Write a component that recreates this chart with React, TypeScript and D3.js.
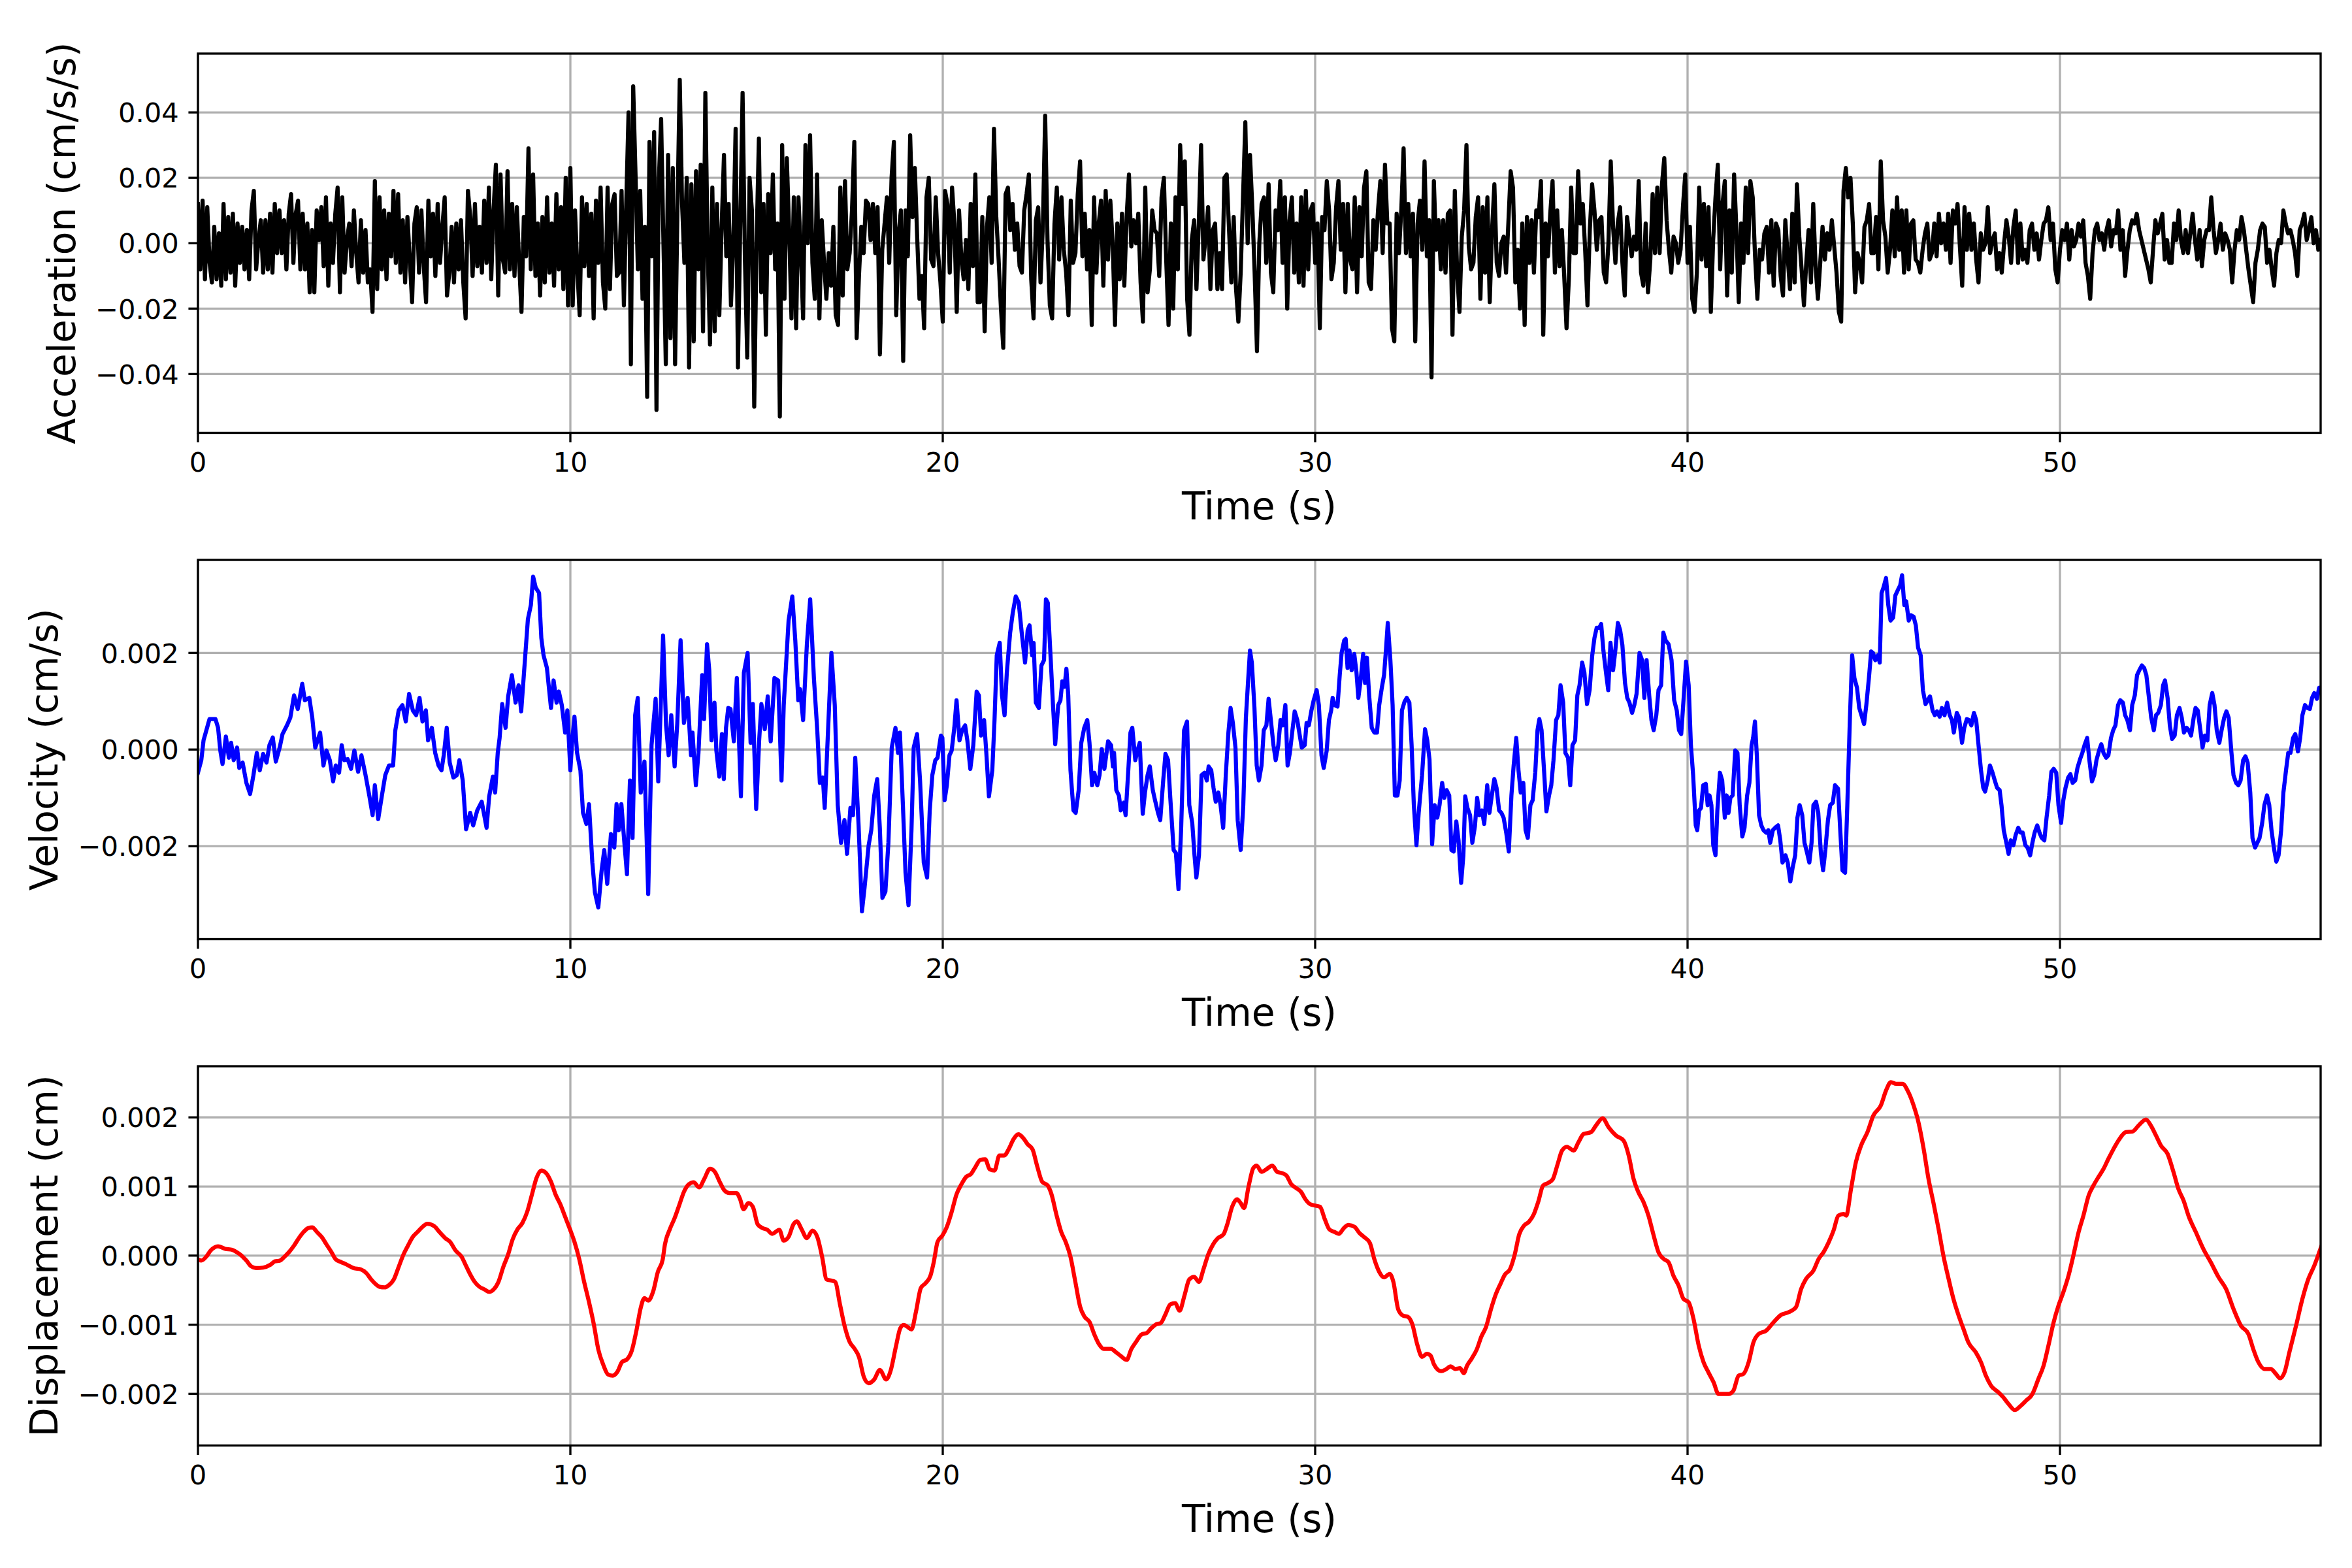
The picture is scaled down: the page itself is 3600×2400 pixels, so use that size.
import React from 'react';
import * as d3 from 'd3';

const W = 3600;
const H = 2400;
const PT = 300 / 72;
const L = 303;
const R = 3552;
const PH = 580.5;
const TOPS = [82, 857, 1632];
const FONT = "'DejaVu Sans', 'Liberation Sans', sans-serif";
const TICK_FS = 10 * PT;
const LABEL_FS = 14 * PT;
const TICK_LEN = 3.5 * PT;
const TICK_PAD = 3.5 * PT;
const GRID_W = 0.8 * PT;
const SPINE_W = 0.8 * PT;
const LINE_W = 1.5 * PT;

const T_MAX = 57;
const TIME_TICKS = [0, 10, 20, 30, 40, 50];
const ACC_TICKS = [-0.04, -0.02, 0, 0.02, 0.04];
const VEL_TICKS = [-0.002, 0, 0.002];
const DISP_TICKS = [-0.002, -0.001, 0, 0.001, 0.002];

// Acceleration in 1e-3 cm/s/s; one row per second, values evenly spaced inside the second
const ACC_ROWS: number[][] = [
  [12,-8,13,-11,11,-6,-12,5,-11,3,-13,12,-11,8,-9,9],
  [-13,6,-6,5,-8,4,-11,10,16,-8,1,7,-9,7,-8,9],
  [-9,12,-3,10,-3,7,-8,9,15,-6,9,13,-8,9,-8,6],
  [-15,4,-15,10,1,11,-7,14,-13,6,-6,9,17,-15,14,-9],
  [1,6,-7,10,-3,-12,7,-9,4,-12,-8,-21,19,-14,14,-8],
  [10,-11,9,-4,16,-6,15,-9,7,-12,8,-5,-18,6,11,-9],
  [10,-7,-18,13,-4,9,-10,12,-6,5,14,-16,-9,5,-12,6],
  [-8,7,-12,-23,16,8,-10,12,-7,5,-9,13,-6,17,-11,10],
  [24,-16,21,-5,-9,22,-8,12,-10,11,-6,-21,8,-4,29,-8],
  [21,-10,6,-16,8,-12,14,-9,6,-13,15,-8,11,-14,20,-19],
  [23,-19,10,-8,-22,14,-7,12,-10,9,-23,13,-6,17,-12,-20],
  [17,-14,12,15,-10,-9,16,-19,12,40,-37,48,21,-8,16,-17],
  [5,-47,31,-4,34,-51,19,38,0,-37,27,-29,23,-37,10,50],
  [12,-6,20,-38,18,-30,22,-8,24,-27,46,-2,-31,17,-27,12],
  [-22,5,27,-4,12,-19,0,35,-38,6,46,-5,-35,20,10,-50],
  [0,32,-15,12,-28,15,-3,21,-8,6,-53,30,-17,26,4,-23],
  [14,-26,14,-2,-23,30,0,33,-6,-17,21,-23,7,-6,-17,-3],
  [-13,5,-22,-25,17,-16,19,-8,-3,10,31,-29,-10,5,-3,13],
  [12,1,12,-3,11,-34,-2,6,14,-6,20,31,-22,3,10,-36],
  [10,-4,33,8,23,2,-17,-10,-26,14,20,-5,-7,14,-3,-12],
  [-24,16,12,-9,17,6,-21,10,-5,-11,1,-14,12,-7,21,-18],
  [-18,8,-27,5,14,-6,35,8,-5,-20,-32,15,17,4,12,-2],
  [6,-7,-9,10,15,21,-11,-23,7,11,-12,5,39,1,-19,-23],
  [6,17,-5,14,-2,-9,-22,13,-6,-3,15,25,-4,9,-8,4],
  [-25,14,-9,6,13,-13,16,-5,13,0,-25,6,-11,9,-13,8],
  [21,-1,7,0,9,-12,-24,17,-15,-8,10,4,3,-10,14,20],
  [-5,-25,6,-20,14,-8,30,12,25,-17,-28,1,7,-14,6,30],
  [-5,2,11,-14,4,6,-14,-3,-14,20,21,4,-12,8,-14,-24],
  [-9,14,37,0,27,11,-9,-33,0,12,14,-6,18,-9,-15,10],
  [4,19,-6,14,-20,7,14,-9,6,-12,14,-13,16,-8,10,12],
  [-6,6,-26,8,4,19,10,-11,-6,11,19,-2,12,-15,12,-5],
  [-8,14,-15,11,-4,17,22,-12,-14,7,-2,10,19,-3,24,6],
  [6,-26,-30,9,-3,10,29,-3,12,-4,9,-30,6,13,-2,25],
  [-4,7,-41,19,-2,7,-8,7,-9,9,10,-28,16,-9,-21,2],
  [10,30,-1,-8,-6,8,14,-17,11,-9,14,-18,4,18,-6,-10],
  [0,2,-9,6,22,17,-12,-2,-20,6,-25,8,-6,7,-9,10],
  [8,19,-28,6,-4,9,19,-9,10,-7,4,-10,-26,-11,17,-3],
  [-3,22,6,12,-2,-19,4,18,10,-2,7,8,-9,-12,0,25],
  [5,-6,6,11,-6,-16,8,2,-4,2,-2,19,-9,-13,6,-15],
  [-5,15,-3,17,-3,18,26,7,-2,-9,2,0,-6,-2,11,21],
  [-6,5,-17,-21,-9,17,-5,12,-7,11,-21,1,14,24,-8,12],
  [19,-16,10,-9,21,4,-18,6,-6,17,-3,19,14,-4,-17,-2],
  [-5,3,5,-9,7,-13,6,4,-10,-16,7,-4,-14,9,-12,18],
  [2,-8,-19,-6,4,-12,12,-7,-17,-6,5,-5,3,-2,7,-1],
  [-9,-21,-24,16,23,14,20,6,-15,-3,-6,-12,5,7,12,-3],
  [-3,8,-8,25,7,2,-9,-2,10,-4,14,-2,10,-9,10,-8],
  [6,7,-5,-6,-9,-2,3,6,-5,-3,6,-4,9,0,6,-2],
  [9,-6,10,6,12,-1,-13,11,-2,9,-2,6,-5,-12,3,-2],
  [0,11,-3,1,3,-8,-3,-9,0,7,2,-6,5,10,-6,6],
  [-5,-2,-6,4,6,-2,3,-5,1,6,7,11,1,6,-8,-12],
  [-2,4,1,6,-5,4,-1,1,6,2,7,-6,-10,-17,-3,4],
  [6,1,3,-2,4,7,-1,4,3,10,-2,4,-10,-2,4,7],
  [6,9,4,1,-2,-5,-8,-12,-2,7,3,6,9,-5,1,-6],
  [-6,6,1,10,1,-3,4,-3,3,9,1,-5,4,-7,1,4],
  [4,14,4,-3,1,6,-2,3,1,-2,-12,-2,4,1,8,4],
  [-2,-8,-13,-18,-6,-2,4,6,5,-6,-2,-8,-13,-3,1,0],
  [10,6,3,4,1,-3,-10,4,6,9,1,4,8,0,4,-2],
  [1],
];

// Velocity: flat pairs [time s, value in 1e-4 cm/s]
const VEL_PAIRS: number[] = [
  0,-4.8, 0.09,-2.2, 0.15,1.9, 0.31,6.3, 0.47,6.3, 0.54,4.5, 0.60,-0.2, 0.66,-3, 0.75,2.7, 0.83,-1.7, 0.89,1.4, 0.96,-2.2,
  1.05,0.4, 1.11,-3.8, 1.20,-2.7, 1.30,-6.9, 1.40,-9.2, 1.49,-5.3, 1.58,-0.7, 1.66,-4.3, 1.75,-0.9, 1.84,-2.7, 1.92,0.9,
  2.01,2.5, 2.09,-2.5, 2.20,0.6, 2.27,3.2, 2.39,5.0, 2.48,6.6, 2.58,11.2, 2.68,8.4, 2.80,13.6, 2.87,10.2, 2.99,10.7,
  3.07,6.6, 3.15,0.4, 3.28,3.5, 3.37,-3.3, 3.45,-0.2, 3.54,-2.2, 3.63,-6.6, 3.70,-3.3, 3.79,-4.8, 3.86,0.9, 3.93,-2.2,
  4.02,-2.0, 4.11,-4.0, 4.20,-0.2, 4.30,-4.6, 4.39,-1.2, 4.50,-5.3, 4.60,-9.5, 4.69,-13.6, 4.75,-7.4, 4.84,-14.4, 4.94,-9.5,
  5.03,-5.3, 5.13,-3.3, 5.24,-3.3, 5.30,4.0, 5.39,8.1, 5.49,9.2, 5.58,5.8, 5.67,11.5, 5.77,8.1, 5.86,7.1, 5.95,10.7,
  6.03,5.8, 6.12,8.1, 6.18,1.9, 6.28,4.5, 6.37,-0.7, 6.46,-3.3, 6.54,-4.3, 6.60,-1.2, 6.68,4.5, 6.76,-2.7, 6.86,-5.8, 6.95,-5.3,
  7.02,-2.2, 7.11,-6.4, 7.20,-16.5, 7.31,-13.1, 7.39,-15.7, 7.50,-12.6, 7.62,-10.8, 7.75,-16.2, 7.82,-9.7, 7.92,-5.6, 7.98,-8.9,
  8.05,-0.7, 8.10,2.4, 8.17,9.4, 8.26,4.5, 8.33,11.0, 8.43,15.4, 8.53,9.7, 8.61,13.3, 8.68,7.9, 8.76,16.4, 8.86,27.0, 8.94,29.9,
  9.00,35.8, 9.07,33.5, 9.16,32.4, 9.22,23.1, 9.28,19.5, 9.37,16.9, 9.48,8.6, 9.55,14.3, 9.63,9.7, 9.69,12.0, 9.77,9.2, 9.86,3.5, 9.92,8.1,
  10.0,-4.3, 10.05,1.9, 10.11,6.8, 10.18,-0.7, 10.27,-4.3, 10.34,-13.1, 10.43,-15.4, 10.50,-11.3, 10.59,-23.4, 10.66,-29.6, 10.75,-32.7,
  10.84,-25.0, 10.91,-20.8, 10.99,-27.8, 11.09,-17.5, 11.18,-20.3, 11.24,-11.3, 11.30,-16.7, 11.37,-11.3, 11.44,-18.3, 11.52,-25.8,
  11.60,-6.4, 11.67,-18.3, 11.74,7.1, 11.81,10.7, 11.89,-8.9, 11.99,-2.5, 12.09,-29.9, 12.18,0.9, 12.29,10.5, 12.36,-6.6, 12.49,23.6,
  12.57,5.0, 12.64,-1.2, 12.71,7.1, 12.80,-3.5, 12.87,5.3, 12.96,22.6, 13.05,5.5, 13.15,10.7, 13.24,-1.2, 13.28,3.5, 13.37,-7.4,
  13.44,-0.7, 13.54,15.4, 13.59,6.3, 13.67,21.8, 13.73,16.4, 13.79,1.9, 13.87,9.7, 13.92,-0.2, 14.00,-5.6, 14.07,3.2, 14.12,-6.1,
  14.18,4.5, 14.24,8.6, 14.30,8.4, 14.39,1.7, 14.47,14.8, 14.58,-9.7, 14.66,15.9, 14.76,20.0, 14.84,1.4, 14.90,9.4, 14.99,-12.3,
  15.07,1.9, 15.13,9.4, 15.22,4.2, 15.30,11.0, 15.38,1.7, 15.48,14.8, 15.58,14.3, 15.67,-6.4, 15.73,9.2, 15.86,26.7, 15.96,31.7,
  16.04,22.6, 16.12,10.2, 16.17,12.5, 16.25,6.1, 16.35,21.6, 16.44,31.1, 16.54,14.8, 16.63,4.0, 16.70,-6.9, 16.78,-5.8, 16.83,-12.1,
  16.92,4.0, 17.01,20.0, 17.10,9.2, 17.18,-11.5, 17.27,-19.3, 17.36,-14.6, 17.43,-21.6, 17.52,-12.1, 17.59,-13.6, 17.65,-1.7,
  17.74,-15.7, 17.83,-33.5, 17.90,-28.6, 18.01,-19.8, 18.08,-16.7, 18.16,-9.5, 18.24,-6.1, 18.31,-16.2, 18.38,-30.7, 18.46,-29.4,
  18.54,-19.3, 18.63,0.4, 18.73,4.5, 18.80,-0.7, 18.85,3.5, 18.93,-11.5, 19.00,-25.5, 19.08,-32.2, 19.16,-16.7, 19.22,0.4, 19.31,3.2,
  19.39,-6.4, 19.49,-23.4, 19.58,-26.5, 19.65,-12.6, 19.72,-5.3, 19.80,-2.2,
  19.86,-1.7, 19.95,2.9, 19.99,2.4, 20.05,-10.5, 20.11,-7.4, 20.18,-1.2, 20.24,-0.2, 20.31,4.5, 20.37,10.2, 20.45,1.9, 20.52,4.0,
  20.60,5.0, 20.66,1.9, 20.74,-4.0, 20.82,0.9, 20.91,12.0, 20.97,11.2, 21.03,2.9, 21.11,6.1, 21.17,-0.7, 21.24,-9.7, 21.33,-4.3,
  21.39,6.1, 21.45,19.5, 21.53,22.1, 21.59,11.2, 21.66,7.1, 21.72,15.9, 21.81,24.2, 21.88,28.3, 21.96,31.7, 22.04,30.4, 22.12,24.2,
  22.21,18.0, 22.28,24.7, 22.33,25.7, 22.40,19.5, 22.44,22.1, 22.50,9.7, 22.58,8.6, 22.65,17.4, 22.72,18.5, 22.77,31.1, 22.82,30.4,
  22.90,18.5, 22.96,9.2, 23.02,1.1, 23.10,9.2, 23.16,10.2, 23.21,14.1, 23.27,13.0, 23.32,16.7, 23.37,11.2, 23.43,-4.3, 23.51,-12.6,
  23.57,-13.1, 23.65,-8.4, 23.72,1.4, 23.80,4.5, 23.88,6.1, 23.94,1.4, 24.01,-7.4, 24.07,-4.8, 24.15,-7.4, 24.21,-5.3, 24.27,0.1,
  24.34,-4.0, 24.44,1.7, 24.52,0.9, 24.57,-3.5, 24.60,-0.7, 24.66,-8.4, 24.73,-9.5, 24.78,-12.6, 24.86,-11.0, 24.91,-13.6, 24.99,-3.3,
  25.04,3.5, 25.09,4.5, 25.17,-2.2, 25.23,-0.2, 25.29,1.4, 25.37,-13.3, 25.43,-8.9, 25.50,-5.3, 25.56,-3.5, 25.64,-8.4, 25.70,-10.5,
  25.78,-13.1, 25.84,-14.6, 25.92,-6.4, 25.98,-0.9, 26.05,-2.2, 26.11,-10.0, 26.20,-20.8, 26.26,-21.4, 26.33,-28.9, 26.40,-16.7,
  26.48,4.0, 26.56,5.8, 26.62,-11.5, 26.70,-15.2, 26.76,-21.9, 26.81,-26.5, 26.88,-21.9, 26.95,-5.3, 27.03,-4.8, 27.09,-6.4,
  27.14,-3.5, 27.21,-4.3, 27.27,-7.9, 27.33,-10.8, 27.40,-8.9, 27.46,-11.5, 27.53,-16.2, 27.60,-5.3, 27.67,3.5, 27.73,8.6, 27.79,5.5,
  27.86,0.4, 27.92,-14.6, 28.00,-20.8, 28.07,-11.5, 28.14,6.6, 28.20,14.3, 28.25,20.5, 28.30,18.0, 28.37,8.6, 28.43,-3.3, 28.49,-6.4,
  28.56,-3.3, 28.62,4.0, 28.69,5.0, 28.75,10.5, 28.81,6.1, 28.88,0.9, 28.94,-2.2, 29.01,0.9, 29.07,6.1, 29.13,5.0, 29.20,9.2,
  29.26,-3.3, 29.32,-0.7, 29.39,4.0, 29.45,7.9, 29.52,6.1, 29.58,3.2, 29.64,0.4, 29.72,0.9, 29.77,5.5, 29.83,5.0, 29.90,8.1, 29.96,10.2,
  30.04,12.3, 30.10,9.2, 30.17,-1.2, 30.23,-3.8, 30.31,-0.2, 30.37,6.1, 30.43,8.1, 30.47,10.7, 30.52,9.2, 30.60,8.9, 30.66,15.4,
  30.71,20.0, 30.78,22.6, 30.82,22.9, 30.87,16.9, 30.92,20.5, 30.98,16.4, 31.05,19.8, 31.11,15.9, 31.16,10.7, 31.22,14.3, 31.29,19.8,
  31.34,13.8, 31.39,19.0, 31.45,11.2, 31.52,4.5, 31.59,3.5, 31.66,3.5, 31.72,9.2, 31.79,12.8, 31.85,15.4, 31.90,20.5, 31.95,26.2,
  32.02,18.5, 32.08,9.2, 32.14,-9.5, 32.21,-9.5, 32.27,-6.4, 32.33,8.1, 32.40,9.9, 32.46,10.7, 32.53,9.7, 32.59,0.9, 32.65,-11.5,
  32.72,-19.8, 32.78,-13.1, 32.87,-5.3, 32.95,4.2, 33.01,1.9, 33.07,-2.0, 33.14,-19.6, 33.21,-11.5, 33.28,-14.1, 33.34,-11.5,
  33.41,-6.9, 33.47,-10.0, 33.53,-8.4, 33.60,-9.5, 33.66,-20.8, 33.72,-21.1, 33.79,-14.9, 33.85,-18.8, 33.92,-27.6, 33.98,-21.9,
  34.03,-9.7, 34.09,-12.1, 34.16,-13.6, 34.22,-19.3, 34.29,-15.9, 34.35,-10.0, 34.41,-13.6, 34.48,-12.6, 34.54,-15.4, 34.62,-7.4,
  34.68,-13.1, 34.74,-9.7, 34.81,-6.1, 34.87,-7.9, 34.94,-12.6, 35.00,-13.1, 35.06,-14.1, 35.13,-17.2, 35.20,-21.1, 35.27,-9.5,
  35.33,-3.3, 35.40,2.4, 35.46,-4.3, 35.52,-8.9, 35.59,-6.9, 35.65,-16.7, 35.71,-18.3, 35.78,-11.5, 35.84,-10.5, 35.91,-4.8,
  35.97,4.0, 36.02,6.3, 36.08,4.0, 36.15,-4.8, 36.21,-12.8, 36.28,-9.5, 36.34,-7.4, 36.40,-2.2, 36.47,6.1, 36.53,7.1, 36.59,13.3,
  36.66,9.7, 36.72,-0.7, 36.79,-1.7, 36.85,-7.4, 36.91,0.9, 36.98,1.9, 37.04,11.2, 37.10,13.3, 37.17,18.0, 37.23,15.9, 37.30,9.4,
  37.37,12.3, 37.44,19.5, 37.50,23.1, 37.56,25.2, 37.63,25.2, 37.68,26.0, 37.74,20.5, 37.81,15.9, 37.87,12.3, 37.93,22.1, 38.00,16.4,
  38.06,20.5, 38.13,26.2, 38.19,24.7, 38.25,21.6, 38.32,13.8, 38.38,10.7, 38.44,9.7, 38.51,7.6, 38.57,9.2, 38.63,11.5, 38.71,20.0,
  38.78,18.5, 38.84,10.7, 38.90,18.5, 38.97,11.2, 39.03,6.1, 39.09,4.0, 39.16,7.1, 39.22,12.3, 39.29,13.3, 39.35,24.2, 39.41,22.6,
  39.49,21.8, 39.57,18.5, 39.64,10.2, 39.71,8.1, 39.77,4.0, 39.83,3.2, 39.90,11.2, 39.96,18.2, 40.03,13.3, 40.09,0.9, 40.15,-5.3,
  40.22,-15.7, 40.26,-16.7, 40.31,-12.6, 40.36,-12.1, 40.42,-7.4, 40.49,-7.1, 40.54,-11.5, 40.59,-9.5, 40.64,-11.5, 40.69,-19.8,
  40.75,-21.9, 40.80,-12.6, 40.87,-4.8, 40.93,-6.4, 41.00,-14.1, 41.05,-9.5, 41.10,-13.1, 41.15,-10.0, 41.21,-9.5, 41.28,-0.2,
  41.34,-0.7, 41.40,-11.5, 41.47,-18.0, 41.53,-16.2, 41.60,-9.5, 41.66,-6.9, 41.72,0.9, 41.76,2.4, 41.81,5.8, 41.86,-1.2, 41.92,-13.6,
  41.98,-15.7, 42.04,-16.7, 42.11,-17.2, 42.17,-16.7, 42.22,-19.3, 42.29,-16.7, 42.35,-16.2, 42.43,-15.7, 42.49,-18.8, 42.55,-23.4,
  42.63,-21.9, 42.69,-23.4, 42.76,-27.3, 42.82,-24.5, 42.89,-21.9, 42.95,-14.1, 43.01,-11.5, 43.08,-13.6, 43.14,-19.3, 43.21,-21.4,
  43.27,-23.4, 43.33,-19.3, 43.38,-11.5, 43.45,-10.8, 43.51,-13.1, 43.58,-21.4, 43.64,-25.0, 43.70,-20.8, 43.77,-14.6, 43.83,-11.5,
  43.90,-11.0, 43.96,-7.4, 44.04,-8.1, 44.10,-16.7, 44.16,-25.0, 44.23,-25.5, 44.29,-11.5, 44.36,6.6, 44.42,19.5, 44.48,14.8,
  44.55,12.8, 44.61,8.6, 44.67,7.1, 44.74,5.3, 44.80,9.2, 44.87,14.8, 44.93,20.3, 44.98,20.0, 45.04,18.5, 45.11,19.5, 45.16,18.0,
  45.21,32.4, 45.26,33.5, 45.33,35.5, 45.39,29.9, 45.45,26.7, 45.52,27.3, 45.58,31.9, 45.64,32.9, 45.71,34.0, 45.76,36.1, 45.82,29.9,
  45.87,30.7, 45.94,26.7, 46.00,27.8, 46.07,27.5, 46.13,25.7, 46.19,21.1, 46.26,19.5, 46.32,12.3, 46.39,9.4, 46.45,10.2, 46.51,11.0,
  46.58,8.1, 46.64,7.1, 46.70,7.9, 46.77,6.8, 46.83,8.6, 46.90,7.1, 46.97,9.7, 47.04,7.1, 47.10,6.1, 47.15,3.5, 47.23,7.6, 47.29,6.6,
  47.37,1.4, 47.43,4.5, 47.50,6.3, 47.56,6.1, 47.62,5.0, 47.69,7.6, 47.75,6.1, 47.82,0.4, 47.88,-4.3, 47.94,-7.9, 47.99,-8.7,
  48.06,-6.4, 48.12,-3.3, 48.19,-4.8, 48.25,-6.4, 48.31,-7.9, 48.38,-8.4, 48.43,-11.5, 48.49,-16.7, 48.56,-19.3, 48.62,-21.6,
  48.68,-18.8, 48.75,-19.8, 48.81,-17.7, 48.88,-16.2, 48.94,-17.2, 49.00,-17.2, 49.07,-19.8, 49.13,-20.3, 49.20,-21.9, 49.26,-19.3,
  49.32,-17.2, 49.39,-15.7, 49.45,-17.2, 49.51,-18.3, 49.58,-18.8, 49.64,-14.1, 49.71,-9.5, 49.77,-4.6, 49.83,-4.0, 49.90,-4.8,
  49.96,-11.5, 50.03,-15.2, 50.09,-10.5, 50.15,-7.9, 50.22,-5.8, 50.28,-5.1, 50.34,-6.9, 50.41,-6.4, 50.47,-3.8, 50.54,-2.0,
  50.60,-0.7, 50.66,0.9, 50.73,2.4, 50.79,-2.2, 50.86,-6.6, 50.92,-5.3, 50.98,-2.2, 51.05,-0.2, 51.11,1.1, 51.17,-0.7, 51.24,-1.7,
  51.30,-1.2, 51.37,2.4, 51.43,4.0, 51.49,5.0, 51.56,9.2, 51.62,10.2, 51.69,9.7, 51.75,7.1, 51.81,6.1, 51.88,4.0, 51.94,9.2,
  52.01,11.2, 52.07,15.4, 52.13,16.4, 52.20,17.4, 52.26,16.9, 52.32,15.4, 52.39,10.7, 52.45,6.6, 52.52,4.0, 52.58,7.1, 52.64,7.6,
  52.71,9.2, 52.77,13.3, 52.82,14.3, 52.89,10.7, 52.95,5.0, 53.01,2.2, 53.08,2.9, 53.14,7.1, 53.21,8.6, 53.27,6.6, 53.33,3.5,
  53.40,4.5, 53.46,4.0, 53.52,2.9, 53.59,6.6, 53.64,8.6, 53.70,8.1, 53.77,4.0, 53.83,0.4, 53.89,2.9, 53.96,1.9, 54.02,9.2, 54.09,11.7,
  54.15,9.2, 54.21,4.0, 54.28,1.4, 54.34,4.0, 54.41,6.6, 54.47,7.9, 54.53,6.6, 54.60,-0.2, 54.66,-5.3, 54.73,-6.9, 54.79,-7.4,
  54.85,-6.4, 54.92,-2.2, 54.98,-1.4, 55.04,-2.7, 55.11,-8.9, 55.17,-18.3, 55.24,-20.3, 55.30,-19.3, 55.36,-18.3, 55.43,-15.2,
  55.49,-11.5, 55.56,-9.5, 55.62,-11.5, 55.68,-16.7, 55.75,-20.6, 55.81,-23.2, 55.87,-21.9, 55.94,-16.7, 56.00,-8.9, 56.07,-4.3,
  56.13,-0.7, 56.19,-0.7, 56.26,2.4, 56.32,3.2, 56.39,-0.4, 56.45,2.4, 56.51,7.1, 56.58,9.2, 56.64,8.6, 56.71,8.4, 56.77,10.7,
  56.83,11.7, 56.90,10.5, 56.96,12.8, 57.02,12.5,
];

// Displacement: flat pairs [time s, value in 1e-5 cm]
const DISP_PAIRS: number[] = [
  0,-5.4, 0.09,-7.2, 0.22,-1.8, 0.34,7.2, 0.54,13.4, 0.73,9.8, 0.92,8.3, 1.05,4.7, 1.17,0, 1.30,-7.2, 1.43,-15.6, 1.56,-18.1,
  1.75,-17.4, 1.94,-13.4, 2.07,-8.3, 2.20,-7.2, 2.32,-1.8, 2.45,5.4, 2.58,14.5, 2.71,25.3, 2.84,34.4, 2.96,39.8, 3.07,40.9,
  3.19,34.4, 3.32,27.1, 3.45,16.3, 3.58,5.4, 3.70,-5.4, 3.83,-9, 3.98,-12.7, 4.18,-18.1, 4.37,-19.9, 4.52,-25.3, 4.65,-34.4,
  4.78,-41.6, 4.88,-45.2, 5.01,-46, 5.13,-42.7, 5.26,-34.4, 5.39,-16.3, 5.52,1.8, 5.64,14.5, 5.77,27.1, 5.90,34.4, 6.03,41.6,
  6.16,46, 6.35,42.3, 6.48,34.4, 6.64,25.3, 6.77,19.9, 6.92,7.2, 7.08,-1.8, 7.18,-12.7, 7.31,-27.1, 7.43,-38, 7.56,-45.2,
  7.69,-48.9, 7.82,-52.5, 7.94,-48.9, 8.07,-38, 8.20,-16.3, 8.33,1.8, 8.45,23.5, 8.58,38, 8.71,47, 8.84,63.3, 8.97,88.7,
  9.09,112.2, 9.22,123.1, 9.35,119.4, 9.48,106.8, 9.60,88.7, 9.73,74.2, 9.86,56.1, 9.99,38, 10.11,19.9, 10.24,-5.4, 10.37,-38,
  10.50,-67, 10.63,-99.5, 10.75,-135.7, 10.88,-157.4, 11.01,-171.9, 11.14,-173.7, 11.26,-168.3, 11.39,-153.8, 11.52,-150.2,
  11.65,-137.5, 11.78,-106.8, 11.88,-77.8, 11.99,-61.5, 12.09,-65.1, 12.22,-52.5, 12.35,-23.5, 12.48,-5.4, 12.54,16.3, 12.67,38,
  12.80,54.3, 12.92,72.4, 13.05,92.3, 13.18,103.1, 13.31,106, 13.46,98.8, 13.59,110.4, 13.75,125.6, 13.88,121.2, 14.01,106.8,
  14.14,94.1, 14.27,90.5, 14.46,90.5, 14.56,81.4, 14.65,67, 14.78,76, 14.90,70.6, 15.03,45.2, 15.16,39.8, 15.29,37.3, 15.42,31.5,
  15.61,37.3, 15.73,21.7, 15.86,27.1, 15.99,45.2, 16.08,49.6, 16.21,38, 16.35,25.3, 16.50,36.2, 16.63,27.1, 16.76,-1.8,
  16.88,-34.4, 17.01,-36.2, 17.11,-38, 17.24,-70.6, 17.37,-103.1, 17.50,-124.9, 17.62,-133.9, 17.75,-146.6, 17.88,-175.5,
  18.01,-184.6, 18.16,-179.2, 18.31,-165.4, 18.48,-179.2, 18.61,-164.7, 18.74,-132.1, 18.86,-105, 18.95,-100.3, 19.05,-103.1,
  19.16,-106.8, 19.28,-81.4, 19.41,-47, 19.54,-39.8, 19.67,-29, 19.76,-9,
  19.86,19.9, 19.99,29, 20.11,41.6, 20.24,63.3, 20.37,88.7, 20.50,103.1, 20.63,114, 20.75,117.6, 20.88,128.5, 21.01,138.6,
  21.14,139.4, 21.26,124.9, 21.39,123.1, 21.52,144.8, 21.65,144.8, 21.77,153.8, 21.90,168.3, 22.03,175.5, 22.16,170.1, 22.28,161.1,
  22.41,153.8, 22.54,128.5, 22.67,106.8, 22.82,101.3, 22.92,88.7, 23.05,59.7, 23.18,34.4, 23.30,19.9, 23.43,-1.8, 23.56,-38,
  23.69,-74.2, 23.81,-88.7, 23.94,-95.9, 24.07,-114, 24.20,-128.5, 24.32,-135, 24.52,-135, 24.64,-139.3, 24.77,-144.8, 24.94,-150.9,
  25.06,-135.7, 25.19,-124.9, 25.34,-114, 25.47,-112.2, 25.60,-105, 25.73,-99.5, 25.85,-97.7, 25.98,-85, 26.11,-70.6, 26.24,-68.8,
  26.36,-79.6, 26.49,-57.9, 26.62,-34.4, 26.75,-30.8, 26.88,-38, 27.00,-19.9, 27.13,1.8, 27.26,16.3, 27.39,25.3, 27.54,30.8,
  27.64,45.2, 27.77,70.6, 27.90,81.4, 28.00,76, 28.09,68.8, 28.21,99.5, 28.34,126.7, 28.43,130.3, 28.56,121.2, 28.69,124.9,
  28.85,130.3, 28.98,121.2, 29.11,119.4, 29.23,115.8, 29.36,103.1, 29.49,97.7, 29.62,92.3, 29.74,81.4, 29.87,74.2, 30.00,72.4,
  30.13,70.6, 30.26,52.5, 30.38,38, 30.51,34.4, 30.64,31.5, 30.77,39.8, 30.89,44.5, 31.06,41.6, 31.19,32.6, 31.31,27.1, 31.47,18.1,
  31.59,-5.4, 31.72,-23.5, 31.85,-31.5, 32.00,-26.4, 32.10,-38, 32.23,-77.8, 32.36,-86.9, 32.49,-88.7, 32.61,-99.5, 32.74,-128.5,
  32.87,-146.6, 33.00,-142.2, 33.10,-144.8, 33.19,-157.4, 33.38,-167.2, 33.51,-164.7, 33.64,-160.3, 33.76,-164, 33.89,-162.9,
  33.99,-170.1, 34.08,-159.2, 34.21,-148.4, 34.34,-135.7, 34.46,-117.6, 34.59,-103.1, 34.72,-77.8, 34.85,-56.1, 34.97,-41.6,
  35.10,-27.1, 35.23,-19.9, 35.36,1.8, 35.48,30.8, 35.61,43.4, 35.74,48.9, 35.87,59.7, 35.99,77.8, 36.12,101.3, 36.25,105,
  36.38,110.4, 36.51,132.1, 36.63,152, 36.76,157.4,
  36.94,152, 37.07,164, 37.21,176, 37.41,178.6, 37.54,188.2, 37.72,198.8, 37.88,185.8, 38.08,173.7, 38.28,166.5, 38.42,144.8,
  38.55,111, 38.68,91.7, 38.82,77.2, 38.95,57.9, 39.09,29, 39.22,4.8, 39.36,-4.8, 39.49,-9.7, 39.62,-29, 39.76,-43.4, 39.89,-62.7,
  40.03,-67.6, 40.16,-91.7, 40.30,-130.3, 40.43,-154.4, 40.56,-168.9, 40.70,-183.4, 40.83,-200.3, 40.97,-200.3, 41.10,-200.3,
  41.23,-195.5, 41.37,-173.7, 41.50,-171.3, 41.64,-154.4, 41.77,-125.5, 41.91,-113.4, 42.11,-108.6, 42.31,-96.5, 42.51,-85.9,
  42.71,-82, 42.91,-74.8, 43.05,-48.3, 43.18,-33.8, 43.38,-21.7, 43.52,-4.8, 43.65,4.8, 43.79,19.3, 43.92,36.2, 44.05,57.9,
  44.19,60.3, 44.26,57.9, 44.39,96.5, 44.52,135.1, 44.66,159.3, 44.83,178.6, 44.99,202.7, 45.19,217.2, 45.33,238.9, 45.46,251,
  45.60,248.6, 45.77,248.6, 45.93,236.5, 46.07,217.2, 46.20,193, 46.34,154.4, 46.47,111, 46.60,77.2, 46.74,38.6, 46.87,0,
  47.01,-33.8, 47.14,-62.7, 47.28,-86.9, 47.41,-106.2, 47.54,-125.5, 47.74,-140, 47.88,-154.4, 48.01,-173.7, 48.15,-188.2,
  48.35,-197.9, 48.48,-205.1, 48.62,-214.8, 48.79,-223.5, 48.95,-217.2, 49.09,-209.9, 49.26,-200.3, 49.42,-178.6, 49.56,-159.3,
  49.69,-130.3, 49.83,-96.5, 49.96,-72.4, 50.09,-53.1, 50.23,-29, 50.36,0, 50.50,33.8, 50.63,57.9, 50.77,86.9, 50.90,101.4,
  51.03,113.4, 51.17,125.5, 51.30,140, 51.44,154.4, 51.57,166.5, 51.77,178.6, 51.95,179.5, 52.11,188.2, 52.31,196.9, 52.44,188.2,
  52.58,173.7, 52.71,159.3, 52.89,147.2, 53.05,120.7, 53.18,96.5, 53.32,79.6, 53.45,57.9, 53.65,33.8, 53.85,9.7, 54.05,-9.7,
  54.26,-31.4, 54.46,-48.3, 54.66,-77.2, 54.86,-101.4, 55.06,-113.4, 55.19,-135.1, 55.33,-154.4, 55.49,-164, 55.66,-164,
  55.80,-171.3, 55.91,-177.6, 56.03,-168.9, 56.16,-140, 56.34,-101.4, 56.51,-62.7, 56.67,-33.8, 56.83,-14.5, 57.01,12.1,
];

type Pt = [number, number];

function rowsToPoints(rows: number[][], scale: number): Pt[] {
  const out: Pt[] = [];
  rows.forEach((row, k) => {
    row.forEach((v, i) => out.push([k + i / row.length, v * scale]));
  });
  return out;
}

function pairsToPoints(pairs: number[], scale: number): Pt[] {
  const out: Pt[] = [];
  for (let i = 0; i + 1 < pairs.length; i += 2) out.push([pairs[i], pairs[i + 1] * scale]);
  return out;
}

const ACC = rowsToPoints(ACC_ROWS, 1e-3);
const VEL = pairsToPoints(VEL_PAIRS, 1e-4);
const DISP = pairsToPoints(DISP_PAIRS, 1e-5);

const fmtMinus = (f: (n: number) => string) => (v: number) => f(v).replace('-', '\u2212');

interface PanelProps {
  idx: number;
  top: number;
  domain: [number, number];
  ticks: number[];
  fmt: (v: number) => string;
  label: string;
  labelX: number;
  points: Pt[];
  color: string;
  curve: d3.CurveFactory;
}

function Panel({ idx, top, domain, ticks, fmt, label, labelX, points, color, curve }: PanelProps) {
  const x = d3.scaleLinear().domain([0, T_MAX]).range([L, R]);
  const y = d3.scaleLinear().domain(domain).range([top + PH, top]);
  const line = d3.line<Pt>().x((d) => x(d[0])).y((d) => y(d[1])).curve(curve);
  const bottom = top + PH;
  const clipId = `clip-panel-${idx}`;
  return (
    <g>
      <defs>
        <clipPath id={clipId}>
          <rect x={L} y={top} width={R - L} height={PH} />
        </clipPath>
      </defs>
      {TIME_TICKS.map((t) => (
        <line key={`gx${t}`} x1={x(t)} x2={x(t)} y1={top} y2={bottom} stroke="#b0b0b0" strokeWidth={GRID_W} />
      ))}
      {ticks.map((v) => (
        <line key={`gy${v}`} x1={L} x2={R} y1={y(v)} y2={y(v)} stroke="#b0b0b0" strokeWidth={GRID_W} />
      ))}
      <path
        d={line(points) || ''}
        fill="none"
        stroke={color}
        strokeWidth={LINE_W}
        strokeLinejoin="round"
        strokeLinecap="square"
        clipPath={`url(#${clipId})`}
      />
      <rect x={L} y={top} width={R - L} height={PH} fill="none" stroke="#000" strokeWidth={SPINE_W} />
      {TIME_TICKS.map((t) => (
        <g key={`tx${t}`}>
          <line x1={x(t)} x2={x(t)} y1={bottom} y2={bottom + TICK_LEN} stroke="#000" strokeWidth={SPINE_W} />
          <text
            x={x(t)}
            y={bottom + TICK_LEN + TICK_PAD + 0.729 * TICK_FS}
            textAnchor="middle"
            fontFamily={FONT}
            fontSize={TICK_FS}
            fill="#000"
          >
            {String(t)}
          </text>
        </g>
      ))}
      {ticks.map((v) => (
        <g key={`ty${v}`}>
          <line x1={L - TICK_LEN} x2={L} y1={y(v)} y2={y(v)} stroke="#000" strokeWidth={SPINE_W} />
          <text
            x={L - TICK_LEN - TICK_PAD}
            y={y(v) + 0.3645 * TICK_FS}
            textAnchor="end"
            fontFamily={FONT}
            fontSize={TICK_FS}
            fill="#000"
          >
            {fmt(v)}
          </text>
        </g>
      ))}
      <text
        x={(L + R) / 2}
        y={bottom + 132}
        textAnchor="middle"
        fontFamily={FONT}
        fontSize={LABEL_FS}
        fill="#000"
      >
        Time (s)
      </text>
      <text
        transform={`translate(${labelX},${top + PH / 2}) rotate(-90)`}
        textAnchor="middle"
        fontFamily={FONT}
        fontSize={LABEL_FS}
        fill="#000"
      >
        {label}
      </text>
    </g>
  );
}

export default function App() {
  const f2 = fmtMinus(d3.format('.2f'));
  const f3 = fmtMinus(d3.format('.3f'));
  return (
    <svg
      width={W}
      height={H}
      viewBox={`0 0 ${W} ${H}`}
      style={{ position: 'absolute', left: 0, top: 0, background: '#fff' }}
      xmlns="http://www.w3.org/2000/svg"
    >
      <rect x={0} y={0} width={W} height={H} fill="#fff" />
      <Panel
        idx={0}
        top={TOPS[0]}
        domain={[-0.058, 0.058]}
        ticks={ACC_TICKS}
        fmt={f2}
        label="Acceleration (cm/s/s)"
        labelX={115}
        points={ACC}
        color="#000000"
        curve={d3.curveLinear}
      />
      <Panel
        idx={1}
        top={TOPS[1]}
        domain={[-0.003925, 0.003925]}
        ticks={VEL_TICKS}
        fmt={f3}
        label="Velocity (cm/s)"
        labelX={88}
        points={VEL}
        color="#0000ff"
        curve={d3.curveLinear}
      />
      <Panel
        idx={2}
        top={TOPS[2]}
        domain={[-0.002748, 0.00274]}
        ticks={DISP_TICKS}
        fmt={f3}
        label="Displacement (cm)"
        labelX={88}
        points={DISP}
        color="#ff0000"
        curve={d3.curveMonotoneX}
      />
    </svg>
  );
}
